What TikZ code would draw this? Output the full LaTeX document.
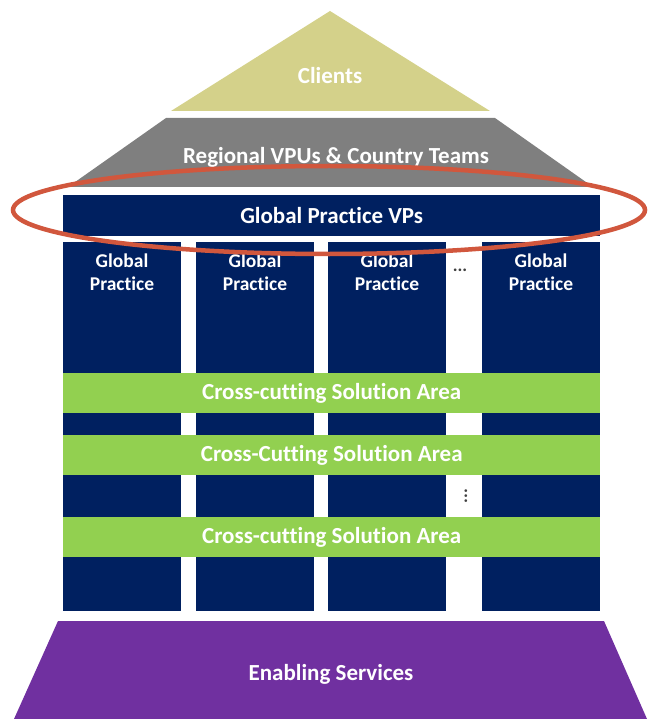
\documentclass[tikz,border=0pt]{standalone}
\usepackage{fontspec}
\setmainfont{Carlito}[Ligatures=NoCommon]
\usetikzlibrary{positioning}
\definecolor{navy}{HTML}{002060}
\definecolor{leaf}{HTML}{92D050}
\definecolor{plum}{HTML}{7030A0}
\definecolor{khaki}{HTML}{D4D18A}
\definecolor{slate}{HTML}{7F7F7F}
\definecolor{rust}{HTML}{D1573D}
\tikzset{
    caption/.style={text=white, font=\bfseries\fontsize{23}{25}\selectfont, inner sep=0pt},
    pillar/.style={fill=navy, anchor=north west, minimum width=118pt, minimum height=369pt, inner sep=0pt},
    pillartext/.style={text=white, font=\bfseries\fontsize{19.5}{23}\selectfont, align=center, inner sep=0pt},
    band/.style={fill=leaf, anchor=north west, minimum width=537pt, minimum height=40pt, inner sep=0pt,
        text=white, font=\bfseries\fontsize{23}{25}\selectfont},
    dots/.style={text=black!75, font=\bfseries\fontsize{18}{18}\selectfont, inner sep=0pt}
}

\begin{document}
\begin{tikzpicture}[x=1pt, y=-1pt]
    \useasboundingbox (0,0) rectangle (647,719);
    % roof
    \fill[khaki] (171,111) -- (330,11) -- (490,111) -- cycle;
    \node[caption] (clients) at (330,76) {Clients};
    \fill[slate] (166,118) -- (495,118) -- (593,187) -- (68,187) -- cycle;
    \node[caption] (regional) at (336,157) {Regional VPUs \& Country Teams};
    % practice VPs
    \node[pillar, minimum width=537pt, minimum height=41pt] (vps) at (63,195) {};
    \node[caption] (vpstext) at (vps.center) {Global Practice VPs};
    % pillars
    \node[pillar] (gp1) at (63,242) {};
    \node[pillar] (gp2) at (196,242) {};
    \node[pillar] (gp3) at (328,242) {};
    \node[pillar] (gp4) at (482,242) {};
    \foreach \i/\x in {1/122,2/255,3/387,4/541}
        \node[pillartext] (gptext\i) at (\x,272) {Global\\Practice};
    \node[dots] (hdots) at (460,270) {...};
    % solution areas
    \node[band] (csa1) at (63,373) {Cross-cutting Solution Area};
    \node[band] (csa2) at (63,435) {Cross-Cutting Solution Area};
    \node[band] (csa3) at (63,517) {Cross-cutting Solution Area};
    \node[dots, rotate=90] (vdots) at (466,496) {...};
    % foundation
    \fill[plum] (58,621) -- (604,621) -- (647,719) -- (14,719) -- cycle;
    \node[caption] (enabling) at (331,674) {Enabling Services};
    % highlight
    \draw[rust, line width=4.5pt] (329,210) ellipse [x radius=316, y radius=44];
\end{tikzpicture}
\end{document}
